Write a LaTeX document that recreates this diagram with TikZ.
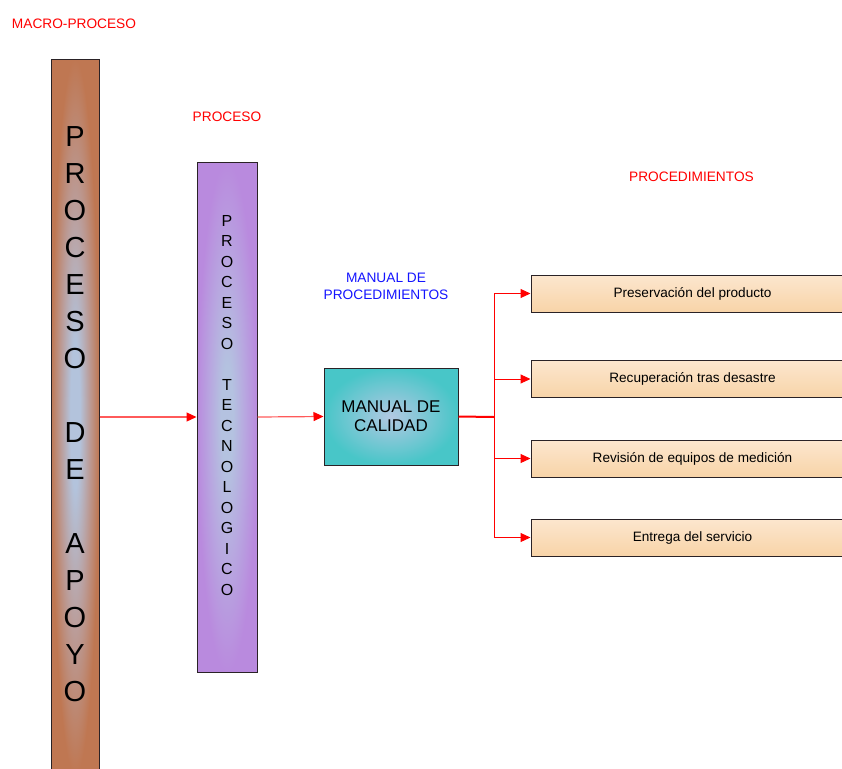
\documentclass[tikz,border=0pt]{standalone}
\usepackage{fontspec}
\setmainfont{Liberation Sans}
\usetikzlibrary{arrows.meta}
\definecolor{brownc}{HTML}{BF7752}
\definecolor{brownpink}{HTML}{BB9C98}
\definecolor{brownmid}{HTML}{B3C3DC}
\definecolor{purpc}{HTML}{B98ADE}
\definecolor{purplav}{HTML}{B8A6E0}
\definecolor{purpmid}{HTML}{B4C2E0}
\definecolor{tealc}{HTML}{48C6C8}
\definecolor{tealmid}{HTML}{B2C8E2}
\definecolor{peachc}{HTML}{F8D4A8}
\definecolor{peachtop}{HTML}{FCE6CE}
\definecolor{linered}{HTML}{FF5A5A}
\definecolor{labelblue}{HTML}{1414FF}
\definecolor{edgec}{HTML}{2A2226}
\pgfdeclareradialshading{brownrad}{\pgfpoint{0bp}{0bp}}{color(0bp)=(brownmid); color(5bp)=(brownmid); color(15bp)=(brownpink); color(25bp)=(brownc); color(50bp)=(brownc)}
\pgfdeclareradialshading{purprad}{\pgfpoint{0bp}{0bp}}{color(0bp)=(purpmid); color(5bp)=(purpmid); color(15bp)=(purplav); color(25bp)=(purpc); color(50bp)=(purpc)}
\begin{document}
\begin{tikzpicture}[x=1pt,y=-1pt,
  redlabel/.style={text=red, font=\fontsize{13.7}{17}\selectfont, inner sep=0pt},
  bluelabel/.style={text=labelblue, font=\fontsize{13.7}{17}\selectfont, inner sep=0pt, align=center},
  procbox/.style={draw=edgec, line width=1pt, minimum width=323pt, minimum height=37pt, inner sep=0pt,
    top color=peachtop, middle color=white, bottom color=peachc, font=\fontsize{13.6}{16}\selectfont},
  conn/.style={draw=linered, line width=1.2pt, -{Triangle[length=10pt,width=9pt,fill=red,color=red]}},
  branchln/.style={draw=red, line width=1pt, -{Triangle[length=10pt,width=9pt,fill=red]}},
  thickred/.style={draw=red, line width=2pt},
  barbox/.style={draw=edgec, line width=1pt, inner sep=0pt}]
\useasboundingbox (0,0) rectangle (842,768);

% macro bar
\node[barbox, minimum width=48pt, minimum height=716pt, shading=brownrad] (macro) at (75,417) {};
\node[font=\fontsize{29}{37}\selectfont, align=center, inner sep=0pt] (macrotxt) at (75,414.5)
  {P\\R\\O\\C\\E\\S\\O\\[37pt]D\\E\\[37pt]A\\P\\O\\Y\\O};

% proceso bar
\node[barbox, minimum width=60pt, minimum height=510pt, shading=purprad] (proc) at (227,417) {};
\node[font=\fontsize{16}{20.5}\selectfont, align=center, inner sep=0pt] (proctxt) at (227,405.5)
  {P\\R\\O\\C\\E\\S\\O\\[20.5pt]T\\E\\C\\N\\O\\L\\O\\G\\I\\C\\O};

% manual de calidad
\node[draw=edgec, line width=1pt, minimum width=134pt, minimum height=97pt, inner sep=0pt,
      inner color=tealmid, outer color=tealc, align=center,
      font=\fontsize{17}{19}\selectfont] (manual) at (391,416.5) {MANUAL DE\\CALIDAD};

% procedure boxes
\node[procbox] (b1) at (692.5,293.5) {Preservación del producto};
\node[procbox] (b2) at (692.5,379) {Recuperación tras desastre};
\node[procbox] (b3) at (692.5,458.5) {Revisión de equipos de medición};
\node[procbox] (b4) at (692.5,537.5) {Entrega del servicio};

% labels
\node[redlabel] (lmacro) at (74,24) {MACRO-PROCESO};
\node[redlabel] (lproc) at (227,117) {PROCESO};
\node[redlabel] (lprocs) at (691.5,177) {PROCEDIMIENTOS};
\node[bluelabel] (lmanual) at (386,286.5) {MANUAL DE\\PROCEDIMIENTOS};

% connectors
\coordinate (branch) at (494,417);
\draw[conn] (macro.east) -- (proc.west);
\draw[conn] (proc.east) -- (manual.west);
\draw[thickred] (manual.east) -- (branch);
\draw[branchln] (branch) |- (b1.west);
\draw[branchln] (branch) |- (b2.west);
\draw[branchln] (branch) |- (b3.west);
\draw[branchln] (branch) |- (b4.west);
\end{tikzpicture}
\end{document}
